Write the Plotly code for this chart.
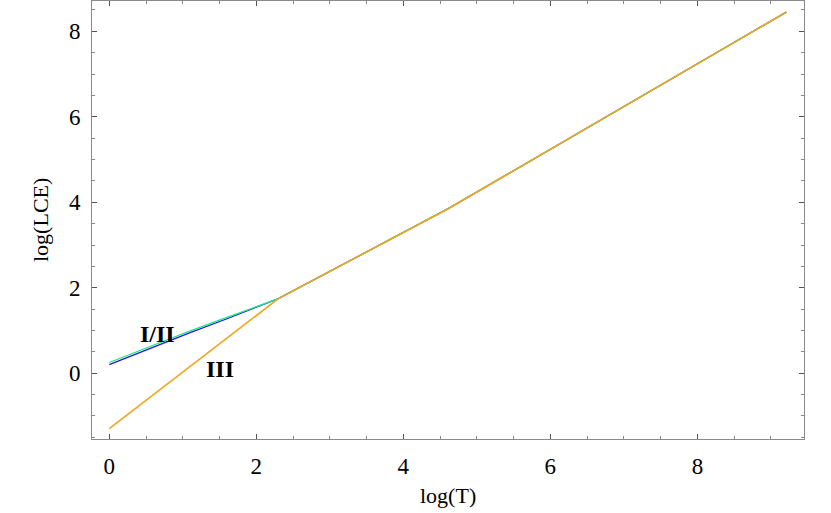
import plotly.graph_objects as go

# log(T) sample points
x_low = [0.0, 0.69, 1.10, 1.61, 2.30]
x_high = [2.30, 4.61, 6.91, 9.21]

# log(LCE) values per regime
y_blue_low = [0.20, 0.68, 0.95, 1.28, 1.745]
y_green_low = [0.25, 0.72, 0.99, 1.31, 1.745]
y_orange_low = [-1.30, -0.39, 0.15, 0.82, 1.745]
y_high = [1.745, 3.85, 6.16, 8.45]

labels = ["I/II", "III"]
label_x = [0.66, 1.51]
label_y = [0.91, 0.10]

font = "Liberation Serif"

fig = go.Figure()
fig.add_trace(go.Scatter(x=x_low + x_high[1:], y=y_blue_low + y_high[1:],
                         mode="lines", line=dict(color="rgb(40,20,225)", width=1.3)))
fig.add_trace(go.Scatter(x=x_low + x_high[1:], y=y_green_low + y_high[1:],
                         mode="lines", line=dict(color="rgb(30,230,140)", width=1.3)))
fig.add_trace(go.Scatter(x=x_low + x_high[1:], y=y_orange_low + y_high[1:],
                         mode="lines", line=dict(color="rgb(242,165,30)", width=1.6)))

for t, x, y in zip(labels, label_x, label_y):
    fig.add_annotation(x=x, y=y, text=f"<b>{t}</b>", showarrow=False,
                       font=dict(family=font, size=24, color="black"))

axis = dict(
    showgrid=False, zeroline=False, showline=True, linecolor="#8a8a8a", linewidth=1,
    mirror="allticks", ticks="inside", ticklen=5, tickcolor="#555555",
    tickfont=dict(family=font, size=23, color="black"), automargin=False,
    minor=dict(ticks="inside", ticklen=3, tickcolor="#888888", dtick=0.5),
)

fig.update_xaxes(axis, range=[-0.235, 9.45], dtick=2, tick0=0, ticklabelstandoff=6)
fig.update_yaxes(axis, range=[-1.54, 8.71], dtick=2, tick0=0, ticklabelstandoff=6)

# axis titles placed as paper annotations
fig.add_annotation(x=0.5, y=0, xref="paper", yref="paper", yshift=-56, yanchor="middle",
                   text="log(T)", showarrow=False, font=dict(family=font, size=22, color="black"))
fig.add_annotation(x=0, y=0.5, xref="paper", yref="paper", xshift=-52, xanchor="center",
                   text="log(LCE)", textangle=-90, showarrow=False,
                   font=dict(family=font, size=22, color="black"))

fig.update_layout(
    width=831, height=513, showlegend=False,
    plot_bgcolor="white", paper_bgcolor="white",
    margin=dict(l=92, r=27, t=1, b=74),
)

# drop the default body margin so the figure sits at the window corner
fig.write_html("out.html", config={"displayModeBar": False},
               post_script="document.body.style.margin='0';")
